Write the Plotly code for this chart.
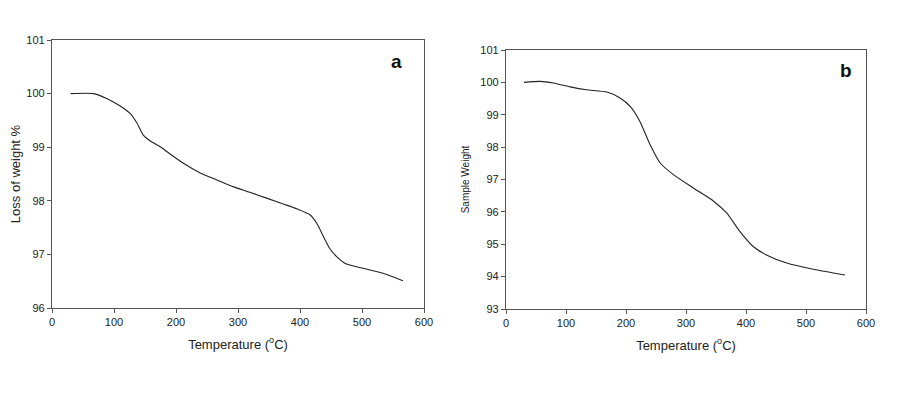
import plotly.graph_objects as go

# Panel a
temp_a = [30, 67, 88, 110, 126, 137, 147, 158, 177, 185, 212, 239, 266, 293, 319, 346, 373, 395, 416, 427, 438, 448, 459, 475, 502, 534, 566]
weight_a = [100.0, 100.0, 99.91, 99.77, 99.63, 99.45, 99.23, 99.12, 98.99, 98.92, 98.70, 98.52, 98.39, 98.26, 98.16, 98.05, 97.94, 97.85, 97.74, 97.58, 97.33, 97.11, 96.96, 96.82, 96.74, 96.65, 96.51]

# Panel b
temp_b = [30, 57, 79, 107, 134, 168, 190, 207, 223, 240, 257, 279, 312, 346, 368, 390, 412, 434, 468, 512, 565]
weight_b = [100.0, 100.03, 99.98, 99.86, 99.77, 99.70, 99.52, 99.26, 98.80, 98.08, 97.51, 97.15, 96.74, 96.33, 95.96, 95.39, 94.93, 94.67, 94.42, 94.23, 94.05]

x_ticks = [0, 100, 200, 300, 400, 500, 600]
y_ticks_a = [96, 97, 98, 99, 100, 101]
y_ticks_b = [93, 94, 95, 96, 97, 98, 99, 100, 101]

OFF = 8  # page body margin
W, H = 900 - OFF, 394 - OFF
FONT = "Liberation Sans, Arial, sans-serif"
AX = "#555555"

def dx(px):
    return (px - OFF) / W

def dy(py):
    return 1 - (py - OFF) / H

fig = go.Figure()
fig.add_trace(go.Scatter(x=temp_a, y=weight_a, mode="lines", line=dict(color="#222222", width=1.1, shape="spline", smoothing=0.6), xaxis="x", yaxis="y", showlegend=False))
fig.add_trace(go.Scatter(x=temp_b, y=weight_b, mode="lines", line=dict(color="#222222", width=1.1, shape="spline", smoothing=0.6), xaxis="x2", yaxis="y2", showlegend=False))

def xax(domain, anchor):
    return dict(domain=domain, anchor=anchor, range=[0, 600], tickvals=x_ticks, showline=True, linecolor=AX, linewidth=1.2,
                mirror=True, ticks="outside", ticklen=4, tickcolor=AX, showgrid=False, zeroline=False, automargin=False,
                tickfont=dict(family=FONT, size=11, color="#222"),
                title=dict(text="Temperature (<sup>o</sup>C)", font=dict(family=FONT, size=13, color="#222"), standoff=12))

def yax(domain, anchor, rng, tv, title, tsize):
    return dict(domain=domain, anchor=anchor, range=rng, tickvals=tv, showline=True, linecolor=AX, linewidth=1.2,
                mirror=True, ticks="outside", ticklen=4, tickcolor=AX, showgrid=False, zeroline=False, automargin=False,
                tickfont=dict(family=FONT, size=11, color="#222"),
                title=dict(text=title, font=dict(family=FONT, size=tsize, color="#222"), standoff=8))

fig.update_layout(
    width=W, height=H, margin=dict(l=0, r=0, t=0, b=0),
    paper_bgcolor="white", plot_bgcolor="white",
    xaxis=xax([dx(52), dx(424)], "y"),
    yaxis=yax([dy(308), dy(40)], "x", [96, 101], y_ticks_a, "Loss of weight %", 13),
    xaxis2=xax([dx(506), dx(866)], "y2"),
    yaxis2=yax([dy(309), dy(50)], "x2", [93, 101], y_ticks_b, "Sample Weight", 10),
    annotations=[
        dict(text="<b>a</b>", x=555, y=100.6, xref="x", yref="y", showarrow=False, font=dict(family=FONT, size=19, color="#111")),
        dict(text="<b>b</b>", x=567, y=100.36, xref="x2", yref="y2", showarrow=False, font=dict(family=FONT, size=19, color="#111")),
    ],
)

fig.write_html("out.html")
